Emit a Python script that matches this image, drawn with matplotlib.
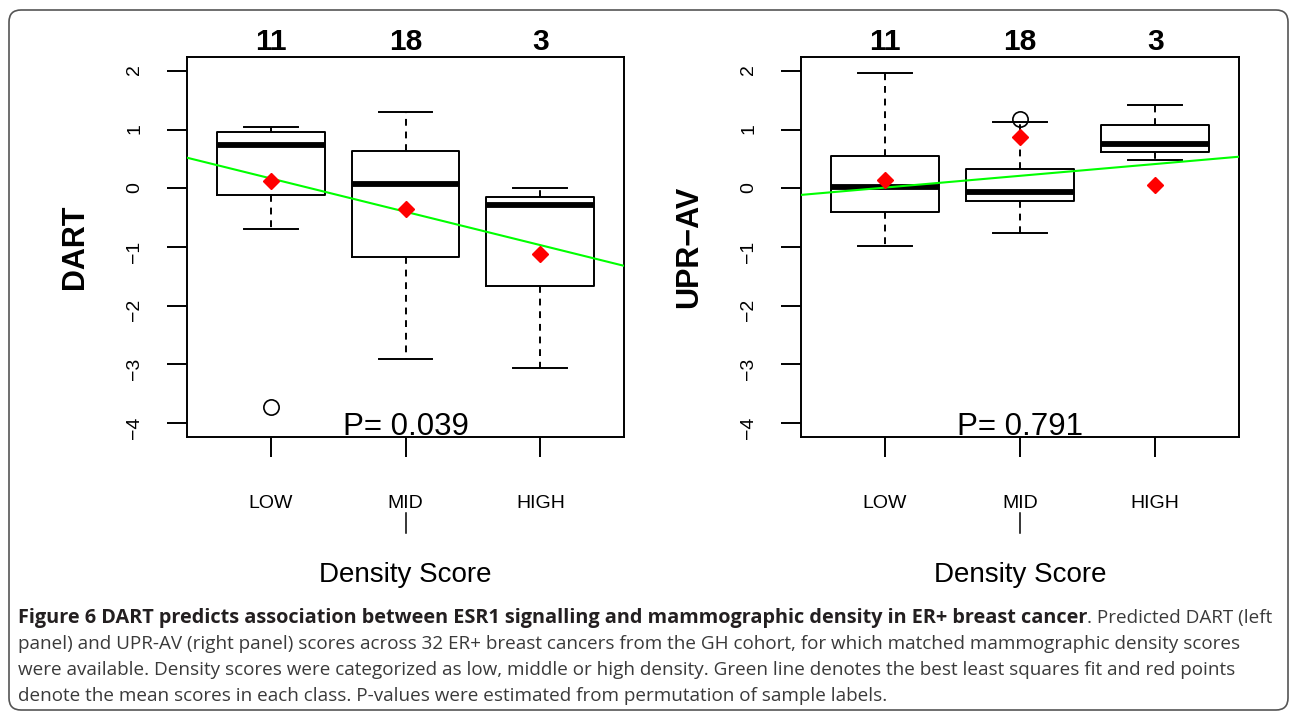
import matplotlib
matplotlib.use('Agg')
import matplotlib.pyplot as plt
import matplotlib.transforms as mtrans
from matplotlib.patches import FancyBboxPatch

plt.rcParams['font.family'] = ['Liberation Sans', 'DejaVu Sans']

# categories and group sizes
groups = ['LOW', 'MID', 'HIGH']
counts = [11, 18, 3]
positions = [1, 2, 3]

# DART box statistics
dart_q1 = [-0.11, -1.17, -1.67]
dart_med = [0.74, 0.07, -0.29]
dart_q3 = [0.955, 0.64, -0.15]
dart_lo = [-0.69, -2.91, -3.06]
dart_hi = [1.05, 1.31, 0.0]
dart_out = [[-3.73], [], []]
dart_mean = [0.13, -0.36, -1.12]
dart_fit = [0.739, -0.569]  # intercept, slope
dart_p = 'P= 0.039'

# UPR-AV box statistics
upr_q1 = [-0.41, -0.22, 0.615]
upr_med = [0.015, -0.07, 0.755]
upr_q3 = [0.56, 0.325, 1.08]
upr_lo = [-0.99, -0.765, 0.49]
upr_hi = [1.97, 1.13, 1.415]
upr_out = [[], [1.18], []]
upr_mean = [0.14, 0.875, 0.055]
upr_fit = [-0.188, 0.201]
upr_p = 'P= 0.791'

caption_bold = ('Figure 6 DART predicts association between ESR1 signalling '
                'and mammographic density in ER+ breast cancer')
caption_lines = [
    '. Predicted DART (left',
    'panel) and UPR-AV (right panel) scores across 32 ER+ breast cancers from the GH cohort, '
    'for which matched mammographic density scores',
    'were available. Density scores were categorized as low, middle or high density. '
    'Green line denotes the best least squares fit and red points',
    'denote the mean scores in each class. P-values were estimated from permutation of sample labels.',
]

W, H = 1290, 713
fig = plt.figure(figsize=(W / 100, H / 100), dpi=100)


def panel(ax, q1, med, q3, lo, hi, out, mean, fit, ylabel, ptext):
    stats = [dict(med=m, q1=a, q3=b, whislo=l, whishi=h, fliers=f)
             for a, m, b, l, h, f in zip(q1, med, q3, lo, hi, out)]
    ax.bxp(stats, positions=positions, widths=0.8, showfliers=True,
           boxprops=dict(lw=1.4, color='black'),
           medianprops=dict(lw=4.2, color='black', solid_capstyle='butt'),
           whiskerprops=dict(lw=1.4, ls=(0, (3.5, 3)), color='black'),
           capprops=dict(lw=1.4, color='black'),
           flierprops=dict(marker='o', mfc='none', mec='black', ms=11, mew=1.2),
           zorder=2)
    ax.axline((0, fit[0]), slope=fit[1], color='#00ff00', lw=1.5, zorder=3)
    ax.plot(positions, mean, ls='none', marker='D', color='red', ms=8, zorder=4)

    ax.set_xlim(0.38, 3.62)
    ax.set_ylim(-4.24, 2.24)
    ax.set_yticks(range(-4, 3))
    ax.set_xticks(positions)
    ax.set_xticklabels(groups)
    ax.tick_params(axis='y', labelrotation=90, length=14.4, width=1.4, pad=17, labelsize=14)
    ax.tick_params(axis='x', length=14.4, width=1.4, pad=27, labelsize=14)
    for s in ax.spines.values():
        s.set_linewidth(1.4)

    tr = mtrans.blended_transform_factory(ax.transData, ax.transAxes)
    for p, c in zip(positions, counts):
        ax.text(p, 1.018, str(c), transform=tr, ha='center', va='baseline',
                fontsize=21.5, fontweight='bold')
    ax.plot([2, 2], [-0.2, -0.2526], transform=tr, clip_on=False, color='black', lw=1.1)
    ax.text(2, 0.0053, ptext, transform=tr, ha='center', va='baseline', fontsize=22.5)
    ax.text(-0.256, 0.5, ylabel, transform=ax.transAxes, rotation=90,
            ha='center', va='center', fontsize=22, fontweight='bold')
    ax.text(0.5, -0.3816, 'Density Score', transform=ax.transAxes,
            ha='center', va='baseline', fontsize=20)


ax1 = fig.add_axes([187 / W, 1 - 437 / H, 437 / W, 380 / H])
ax2 = fig.add_axes([801 / W, 1 - 437 / H, 438 / W, 380 / H])
panel(ax1, dart_q1, dart_med, dart_q3, dart_lo, dart_hi, dart_out, dart_mean,
      dart_fit, 'DART', dart_p)
panel(ax2, upr_q1, upr_med, upr_q3, upr_lo, upr_hi, upr_out, upr_mean,
      upr_fit, 'UPR\u2212AV', upr_p)

# outer rounded frame
frame = FancyBboxPatch((0.09, 0.03), 12.79, 7.0, boxstyle='round,pad=0,rounding_size=0.12',
                       transform=fig.dpi_scale_trans, fill=False, ec='#555555', lw=1.2)
fig.add_artist(frame)

# caption
cap_font = ['Open Sans', 'DejaVu Sans']
cap_size = 13.6
baselines = [623, 649, 675, 701]
x0 = 18 / W
tb = fig.text(x0, 1 - baselines[0] / H, caption_bold, family=cap_font, fontsize=14.3,
              fontweight='bold', color='#231f20', va='baseline')
renderer = fig.canvas.get_renderer()
bb = tb.get_window_extent(renderer)
fig.text(bb.x1 / W, 1 - baselines[0] / H, caption_lines[0], family=cap_font,
         fontsize=cap_size, color='#3a3a3a', va='baseline')
for line, yb in zip(caption_lines[1:], baselines[1:]):
    fig.text(x0, 1 - yb / H, line, family=cap_font, fontsize=cap_size, color='#3a3a3a',
             va='baseline')

fig.savefig('out.png', dpi=100)
